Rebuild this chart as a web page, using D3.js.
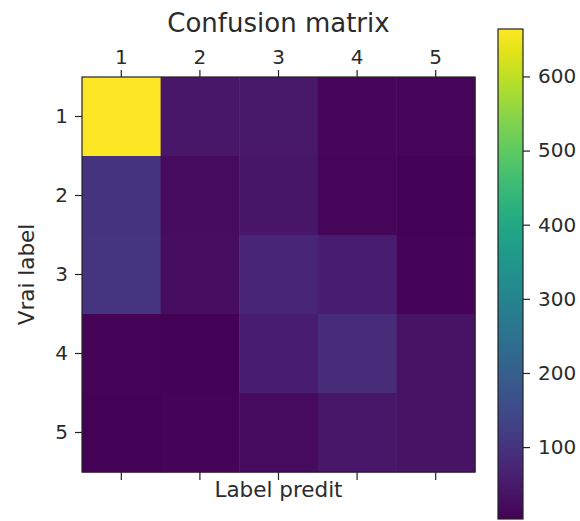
<!DOCTYPE html>
<html><head><meta charset="utf-8">
<script src="https://cdn.jsdelivr.net/npm/d3@7"></script>
<style>body{margin:0;background:#fff}text{font-family:"DejaVu Sans",sans-serif;fill:#2b2b2b}</style>
</head><body><svg id="c" width="580" height="521"></svg>
<script>
const labels = ["1","2","3","4","5"];
const matrix = [
  [664, 42, 45, 14, 12],
  [100, 22, 40, 12, 8],
  [105, 24, 72, 55, 10],
  [10, 6, 55, 85, 35],
  [8, 9, 22, 42, 34]
];
const cbTicks = [100, 200, 300, 400, 500, 600];
const vmin = 3, vmax = 664;

(function(){
const svg = d3.select("#c");
const L = 82, T = 77, W = 393, H = 395;
const x = d3.scaleBand().domain(labels).range([L, L+W]);
const y = d3.scaleBand().domain(labels).range([T, T+H]);
const color = d3.scaleSequential(d3.interpolateViridis).domain([vmin, vmax]);

const cells = [];
matrix.forEach((row,i)=>row.forEach((v,j)=>cells.push({r:labels[i],c:labels[j],v})));
svg.append("g").selectAll("rect").data(cells).join("rect")
  .attr("x", d=>x(d.c)).attr("y", d=>y(d.r))
  .attr("width", x.bandwidth()+0.5).attr("height", y.bandwidth()+0.5)
  .attr("fill", d=>color(d.v));
svg.append("rect").attr("x",L).attr("y",T).attr("width",W).attr("height",H)
  .attr("fill","none").attr("stroke","#222").attr("stroke-width",1.2);

const fs = "20px";
const gTop = svg.append("g").attr("transform",`translate(0,${T})`)
  .call(d3.axisTop(x).tickSize(7).tickPadding(6));
const gBottom = svg.append("g").attr("transform",`translate(0,${T+H})`)
  .call(d3.axisBottom(x).tickSize(8).tickFormat(""));
const gLeft = svg.append("g").attr("transform",`translate(${L},0)`)
  .call(d3.axisLeft(y).tickSize(7).tickPadding(7));
[gTop,gBottom,gLeft].forEach(g=>{
  g.select(".domain").remove();
  g.selectAll("line").attr("stroke","#222").attr("stroke-width",1.2);
  g.selectAll("text").style("font-size",fs).style("font-family","DejaVu Sans").attr("fill","#2b2b2b");
});

svg.append("text").attr("x", L+W/2).attr("y", 32).attr("text-anchor","middle")
  .style("font-size","26px").text("Confusion matrix");
svg.append("text").attr("x", L+W/2).attr("y", 497).attr("text-anchor","middle")
  .style("font-size","21.5px").text("Label predit");
svg.append("text").attr("transform",`translate(34,${T+H/2}) rotate(-90)`).attr("text-anchor","middle")
  .style("font-size","21.5px").text("Vrai label");

// colorbar
const cbX = 498, cbW = 25, cbT = 29, cbB = 519;
const cy = d3.scaleLinear().domain([vmin, vmax]).range([cbB, cbT]);
const defs = svg.append("defs");
const grad = defs.append("linearGradient").attr("id","vg").attr("x1",0).attr("y1",1).attr("x2",0).attr("y2",0);
d3.range(0,1.0001,0.05).forEach(t=>grad.append("stop").attr("offset",t).attr("stop-color",d3.interpolateViridis(t)));
svg.append("rect").attr("x",cbX).attr("y",cbT).attr("width",cbW).attr("height",cbB-cbT)
  .attr("fill","url(#vg)").attr("stroke","#222").attr("stroke-width",1.2);
const cb = svg.append("g").attr("transform",`translate(${cbX+cbW},0)`)
  .call(d3.axisRight(cy).tickValues(cbTicks).tickSize(7).tickPadding(8));
cb.select(".domain").remove();
cb.selectAll("line").attr("stroke","#222").attr("stroke-width",1.2);
cb.selectAll("text").style("font-size",fs).style("font-family","DejaVu Sans").attr("fill","#2b2b2b");
})();
</script></body></html>
